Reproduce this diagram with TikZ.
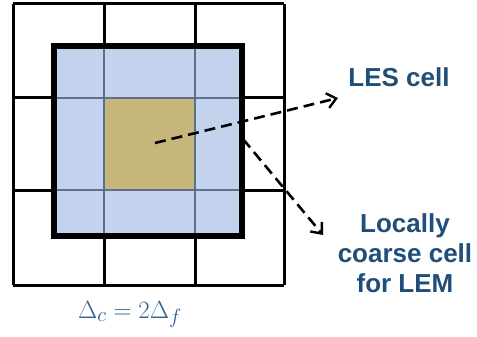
\documentclass[tikz,border=0pt]{standalone}
\usepackage{fontspec}
\setmainfont{Liberation Sans}
\usetikzlibrary{arrows.meta}
\definecolor{cellblue}{HTML}{C3D3EE}
\definecolor{celltan}{HTML}{C7B679}
\definecolor{innerline}{HTML}{5B6F8E}
\definecolor{txtblue}{HTML}{1F4E79}
\definecolor{mathblue}{HTML}{2F5F8F}
\tikzset{
  gridline/.style={line width=3pt, black},
  innergrid/.style={line width=2pt, innerline},
  coarsebox/.style={line width=6pt, black, line join=miter},
  dasharrow/.style={line width=2.6pt, black, dash pattern=on 11pt off 6pt,
    -{Straight Barb[length=9pt,width=15pt,line width=2.4pt]}},
  lbl/.style={text=txtblue, font=\bfseries\fontsize{26pt}{30pt}\selectfont, align=center, inner sep=0pt}
}
\begin{document}
\begin{tikzpicture}[x=1pt,y=-1pt]
\useasboundingbox (0,0) rectangle (477,337);
\fill[white] (0,0) rectangle (477,337);
% outer fine grid
\foreach \x in {13,104,195,284} \draw[gridline] (\x,4) -- (\x,285);
\foreach \y in {4,98,190,285} \draw[gridline] (13,\y) -- (284,\y);
% coarse cell
\fill[cellblue] (54,46) rectangle (242,236);
\fill[celltan] (104,98) rectangle (195,190);
\draw[innergrid] (104,46) -- (104,236);
\draw[innergrid] (195,46) -- (195,236);
\draw[innergrid] (54,98) -- (242,98);
\draw[innergrid] (54,190) -- (242,190);
\draw[coarsebox] (54,46) rectangle (242,236);
% labels
\node[lbl] (les) at (399,77) {LES cell};
\node[lbl] (lem) at (405,253) {Locally\\coarse cell\\for LEM};
\node[anchor=base, text=mathblue, inner sep=0pt, font=\fontsize{24.88pt}{28pt}\selectfont] (formula) at (130,318) {$\Delta_c = 2\Delta_f$};
% connectors
\coordinate (c) at (155,143);
\coordinate (tipA) at (338,98);
\coordinate (startB) at (243,139);
\coordinate (tipB) at (323,235);
\draw[dasharrow] (c) -- (tipA);
\draw[dasharrow] (startB) -- (tipB);
\end{tikzpicture}
\end{document}
